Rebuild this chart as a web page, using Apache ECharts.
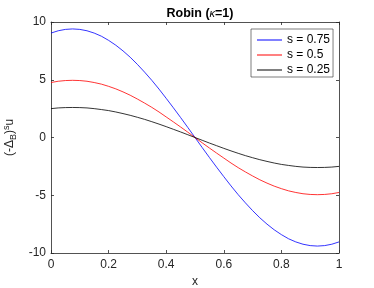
<!DOCTYPE html>
<html><head><meta charset="utf-8">
<script src="https://cdn.jsdelivr.net/npm/echarts@6/dist/echarts.min.js"></script>
<style>html,body{margin:0;padding:0;background:#fff}#c{width:374px;height:288px}</style>
</head><body><div id="c"></div>
<script>
const xs = [0,0.025,0.05,0.075,0.1,0.125,0.15,0.175,0.2,0.225,0.25,0.275,0.3,0.325,0.35,0.375,0.4,0.425,0.45,0.475,0.5,
            0.525,0.55,0.575,0.6,0.625,0.65,0.675,0.7,0.725,0.75,0.775,0.8,0.825,0.85,0.875,0.9,0.925,0.95,0.975,1];
const s075 = [9.04,9.24,9.36,9.40,9.36,9.24,9.04,8.77,8.41,7.99,7.50,6.95,6.33,5.66,4.95,4.19,3.39,2.57,1.73,0.87,0,
              -0.87,-1.73,-2.57,-3.39,-4.19,-4.95,-5.66,-6.33,-6.95,-7.50,-7.99,-8.41,-8.77,-9.04,-9.24,-9.36,-9.40,-9.36,-9.24,-9.04];
const s050 = [4.76,4.87,4.93,4.95,4.93,4.87,4.76,4.62,4.43,4.21,3.95,3.66,3.33,2.98,2.61,2.21,1.78,1.35,0.91,0.46,0,
              -0.46,-0.91,-1.35,-1.78,-2.21,-2.61,-2.98,-3.33,-3.66,-3.95,-4.21,-4.43,-4.62,-4.76,-4.87,-4.93,-4.95,-4.93,-4.87,-4.76];
const s025 = [2.50,2.56,2.59,2.60,2.59,2.56,2.50,2.42,2.33,2.21,2.07,1.92,1.75,1.57,1.37,1.16,0.94,0.71,0.48,0.24,0,
              -0.24,-0.48,-0.71,-0.94,-1.16,-1.37,-1.57,-1.75,-1.92,-2.07,-2.21,-2.33,-2.42,-2.50,-2.56,-2.59,-2.60,-2.59,-2.56,-2.50];
const seriesNames = ['s = 0.75','s = 0.5','s = 0.25'];

const FONT = 'Liberation Sans';
const axColor = '#262626';
const chart = echarts.init(document.getElementById('c'));
const pairs = a => xs.map((x,i)=>[x,a[i]]);
const lab = {fontFamily:FONT,fontSize:12,color:axColor};
const tick = {inside:true,length:3,lineStyle:{color:axColor,width:0.8}};
const line = {show:true,onZero:false,lineStyle:{color:axColor,width:0.8}};
chart.setOption({
  animation:false,
  title:{text:'Robin ({k|κ}=1)',left:195,top:2,textAlign:'center',
    textStyle:{fontFamily:FONT,fontSize:12.5,fontWeight:'bold',color:'#000',
      rich:{k:{fontFamily:FONT,fontSize:11,fontStyle:'italic',fontWeight:'normal',color:'#000'}}}},
  grid:{left:51,right:35,top:22,bottom:35,outerBoundsMode:'none',containLabel:false},
  legend:{left:251,top:29,orient:'vertical',itemGap:3,itemWidth:25,itemHeight:1,
    backgroundColor:'#fff',borderColor:'#262626',borderWidth:0.6,padding:[5,3,1,6],
    textStyle:{fontFamily:FONT,fontSize:12,lineHeight:11,color:'#000'},
    data:seriesNames.map(n=>({name:n,icon:'rect'}))},
  xAxis:[{type:'value',min:0,max:1,interval:0.2,name:'x',nameLocation:'middle',nameGap:21,
    nameTextStyle:{fontFamily:FONT,fontSize:12,color:axColor},
    axisLine:line,axisTick:tick,
    splitLine:{show:false},axisLabel:Object.assign({margin:6,formatter:v=>String(+v.toFixed(1))},lab)},
    {type:'value',min:0,max:1,interval:0.2,position:'top',axisLine:line,
    axisTick:tick,axisLabel:{show:false},splitLine:{show:false}}],
  yAxis:[{type:'value',min:-10,max:10,interval:5,
    name:'{p|(-Δ}{sub|B}{p|)}{sup|s}{p|u}',nameLocation:'middle',nameGap:28,nameRotate:90,
    nameTextStyle:{fontFamily:FONT,fontSize:12,color:axColor,
      rich:{p:{fontFamily:FONT,fontSize:12,color:axColor},
            sub:{fontFamily:FONT,fontSize:9,color:axColor,verticalAlign:'bottom',padding:[7,0,0,0]},
            sup:{fontFamily:FONT,fontSize:9,color:axColor,verticalAlign:'top',padding:[0,0,7,0]}}},
    axisLine:line,axisTick:Object.assign({show:true},tick),
    splitLine:{show:false},axisLabel:Object.assign({margin:5},lab)},
    {type:'value',min:-10,max:10,interval:5,position:'right',axisLine:line,
    axisTick:Object.assign({show:true},tick),axisLabel:{show:false},splitLine:{show:false}}],
  series:[
    {name:seriesNames[0],type:'line',data:pairs(s075),smooth:false,showSymbol:false,lineStyle:{color:'#0000ff',width:0.8},itemStyle:{color:'#0000ff'}},
    {name:seriesNames[1],type:'line',data:pairs(s050),smooth:false,showSymbol:false,lineStyle:{color:'#ff0000',width:0.8},itemStyle:{color:'#ff0000'}},
    {name:seriesNames[2],type:'line',data:pairs(s025),smooth:false,showSymbol:false,lineStyle:{color:'#000000',width:0.8},itemStyle:{color:'#000000'}}
  ]
});
</script></body></html>
